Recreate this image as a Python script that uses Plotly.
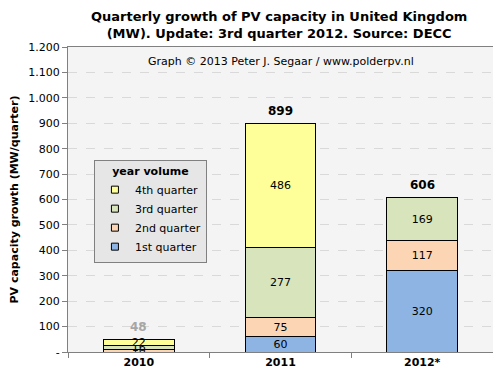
import plotly.graph_objects as go

years = ["2010", "2011", "2012*"]
q1 = [0, 60, 320]
q2 = [10, 75, 117]
q3 = [16, 277, 169]
q4 = [22, 486, 0]
totals = [48, 899, 606]
total_colors = ["#a6a6a6", "#000000", "#000000"]
ytick_vals = [0, 100, 200, 300, 400, 500, 600, 700, 800, 900, 1000, 1100, 1200]
ytick_text = ["-", "100", "200", "300", "400", "500", "600", "700", "800", "900", "1.000", "1.100", "1.200"]

series = [
    ("1st quarter", q1, "#8db4e2"),
    ("2nd quarter", q2, "#fcd5b4"),
    ("3rd quarter", q3, "#d7e4bc"),
    ("4th quarter", q4, "#ffff99"),
]

FONT = "DejaVu Sans, Verdana, sans-serif"
fig = go.Figure()
for name, vals, col in series:
    fig.add_trace(go.Bar(
        x=years, y=vals, name=name, showlegend=False,
        marker=dict(color=col, line=dict(color="#000000", width=1)),
        text=[str(v) if v > 0 else "" for v in vals],
        textposition="inside", insidetextanchor="middle", textangle=0,
        textfont=dict(family=FONT, size=11, color="#000000"),
        width=0.5,
    ))
# legend entries with small square keys
for name, vals, col in series:
    fig.add_trace(go.Scatter(
        x=[None], y=[None], mode="markers", name=name,
        marker=dict(symbol="square", size=7, color=col, line=dict(color="#000000", width=1)),
    ))

for i, (t, c) in enumerate(zip(totals, total_colors)):
    fig.add_annotation(x=i, y=t, text="<b>%d</b>" % t, showarrow=False,
                       yanchor="bottom", yshift=4,
                       font=dict(family=FONT, size=12, color=c))

fig.add_annotation(xref="paper", yref="paper", x=0.5, y=0.951, yanchor="middle",
                   text="Graph © 2013 Peter J. Segaar / www.polderpv.nl",
                   showarrow=False, font=dict(family=FONT, size=11, color="#000000"))

fig.update_layout(
    width=493, height=372,
    barmode="stack",
    paper_bgcolor="#ffffff",
    plot_bgcolor="#f4f4f4",
    margin=dict(l=60, r=8, t=39, b=28, autoexpand=False),
    title=dict(text="<b>Quarterly growth of PV capacity in United Kingdom<br>(MW). Update: 3rd quarter 2012. Source: DECC</b>",
               x=0.55, xanchor="center", y=0.966, yanchor="top",
               font=dict(family=FONT, size=13, color="#000000")),
    uniformtext=dict(minsize=11, mode="show"),
    legend=dict(
        title=dict(text="<b>year volume</b>", side="top center", font=dict(family=FONT, size=11, color="#000000")),
        traceorder="reversed",
        x=0.061, y=0.63, xanchor="left", yanchor="top",
        bgcolor="#e6e6e6", bordercolor="#808080", borderwidth=1,
        font=dict(family=FONT, size=11, color="#000000"),
        itemwidth=30,
    ),
    showlegend=True,
)
fig.update_xaxes(
    type="category", range=[-0.5, 2.5], tickson="boundaries", ticks="outside", ticklen=5, tickcolor="#808080",
    showline=True, linecolor="#808080", mirror=True, linewidth=1, automargin=False,
    tickfont=dict(family=FONT, size=11, color="#000000"),
    tickvals=years, ticktext=["<b>%s</b>" % y for y in years],
)
fig.update_yaxes(
    range=[0, 1200], tickvals=ytick_vals, ticktext=ytick_text,
    ticks="outside", ticklen=5, tickcolor="#808080",
    showline=True, linecolor="#808080", mirror=True, linewidth=1, automargin=False,
    showgrid=True, gridcolor="#d9d9d9", griddash="dash", gridwidth=1,
    zeroline=False,
    tickfont=dict(family=FONT, size=11, color="#000000"),
    title=dict(text="<b>PV capacity growth (MW/quarter)</b>", standoff=8,
               font=dict(family=FONT, size=11, color="#000000")),
)
fig.write_html("out.html")
